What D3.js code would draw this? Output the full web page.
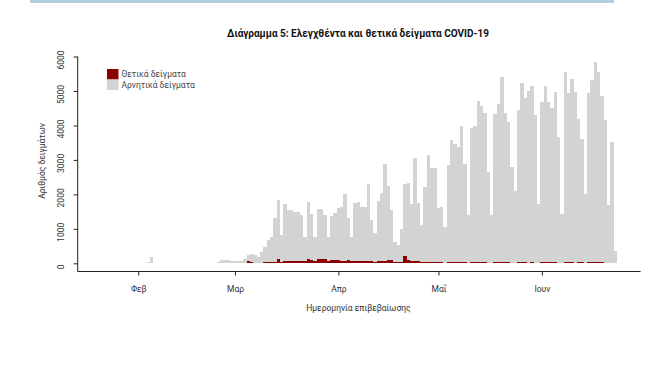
<!DOCTYPE html>
<html>
<head>
<meta charset="utf-8">
<script src="https://cdn.jsdelivr.net/npm/d3@7"></script>
<style>
  body { margin: 0; background: #fff; }
  text { font-family: Roboto, "Noto Sans", sans-serif; fill: #333; }
</style>
</head>
<body>
<svg id="chart" width="664" height="388"></svg>
<script>
// daily samples, first bar = 28 Jan 2020
var firstDay = '2020-01-28';

var tested = [
  15, 12, 18, 10,
  14, 8, 20, 25, 180, 22, 15, 10, 12, 18, 15, 12, 10, 0, 0,
  8, 12, 15, 10, 14, 16, 10, 12, 20, 40, 95, 110, 100, 80,
  70, 60, 55, 120, 250, 260, 230, 190,
  338, 483, 676, 760, 1304, 1836, 821, 1720, 1546, 1546,
  1478, 1498, 1401, 773, 1768, 1430, 773, 1565, 1575, 1401,
  773, 1382, 1449, 1594, 1643, 2010, 1304, 773, 1759, 1788,
  1643, 1643, 2300, 1256, 869, 1817, 2049, 2870, 2252, 1546,
  620, 520, 1000, 2300, 2339, 1710, 3044, 1739, 1111, 2223,
  3141, 2774, 2754, 1594, 1623, 1063, 2851, 3576, 3460, 3383,
  3992, 2880, 1401, 3914, 3982, 4707, 4572, 4350, 2657, 1401,
  4330, 4610, 5413, 4369, 4108, 2803, 2106, 4446, 5239, 4784,
  5007, 5150, 4301, 1720, 4688, 5152, 4688, 4494, 4958, 3673,
  1430, 5538, 4929, 5335, 4958, 4200, 3595, 2010, 4929, 5316,
  5848, 5558, 4852, 4156, 1691, 3528, 366
];

var positive = [
  0, 0, 0, 0,
  0, 0, 0, 0, 0, 0, 0, 0, 0, 0, 0, 0, 0, 0, 0,
  0, 0, 0, 0, 0, 0, 0, 0, 0, 0, 1, 2, 1, 0,
  3, 1, 2, 10, 55, 45, 20, 15,
  18, 25, 30, 35, 50, 125, 40, 75, 80, 75,
  80, 78, 72, 60, 125, 95, 60, 115, 112, 118,
  60, 105, 108, 100, 78, 80, 106, 65, 80, 78,
  75, 80, 76, 70, 45, 60, 62, 58, 100, 95,
  35, 30, 45, 205, 95, 80, 60, 55, 25, 40,
  45, 35, 40, 30, 25, 15, 30, 35, 25, 40,
  40, 28, 15, 30, 28, 35, 40, 30, 18, 12,
  28, 35, 30, 40, 28, 22, 12, 35, 30, 28,
  22, 28, 18, 10, 28, 30, 40, 35, 28, 22,
  12, 30, 35, 28, 22, 30, 28, 12, 35, 40,
  35, 30, 28, 22, 10, 18, 8
];

var monthTicks = ['2020-02-01', '2020-03-01', '2020-04-01', '2020-05-01', '2020-06-01'];
var monthLabels = ['Φεβ', 'Μαρ', 'Απρ', 'Μαΐ', 'Ιουν'];
var yTicks = [0, 1000, 2000, 3000, 4000, 5000, 6000];

var seriesNames = ['Θετικά δείγματα', 'Αρνητικά δείγματα'];
var seriesColors = ['#8b0000', '#d3d3d3'];

var parse = d3.timeParse('%Y-%m-%d');
var start = parse(firstDay);

var data = tested.map(function(t, i) {
  return { day: d3.timeDay.offset(start, i), tested: t, positive: positive[i] };
});

var svg = d3.select('#chart');

var x = d3.scaleTime()
    .domain([parse('2020-01-14'), parse('2020-06-30')])
    .range([78.2, 638.6]);
var y = d3.scaleLinear().domain([0, 6000]).range([263.3, 56.5]);
var axisY = 271.5;

// strip of the table above the chart
svg.append('rect')
    .attr('x', 30).attr('y', 0).attr('width', 584).attr('height', 3)
    .attr('fill', '#b3cde0');

svg.append('text')
    .attr('x', 358).attr('y', 37)
    .attr('text-anchor', 'middle')
    .style('font-weight', 'bold')
    .style('font-size', '10px')
    .style('fill', '#111')
    .text('Διάγραμμα 5: Ελεγχθέντα και θετικά δείγματα COVID-19');

var bars = svg.append('g').attr('shape-rendering', 'crispEdges');

function barX(d) {
  var w = x(d3.timeDay.offset(d.day, 1)) - x(d.day);
  return x(d.day) - w / 2;
}
function barW(d) {
  return x(d3.timeDay.offset(d.day, 1)) - x(d.day);
}

bars.selectAll('rect.neg')
  .data(data)
  .enter().append('rect')
    .attr('class', 'neg')
    .attr('x', barX)
    .attr('width', barW)
    .attr('y', function(d) { return y(d.tested); })
    .attr('height', function(d) { return y(d.positive) - y(d.tested); })
    .attr('fill', seriesColors[1]);

bars.selectAll('rect.pos')
  .data(data)
  .enter().append('rect')
    .attr('class', 'pos')
    .attr('x', barX)
    .attr('width', barW)
    .attr('y', function(d) { return y(d.positive); })
    .attr('height', function(d) { return y(0) - y(d.positive); })
    .attr('fill', seriesColors[0]);

// x axis
var xAxis = svg.append('g')
    .attr('transform', 'translate(0,' + axisY + ')')
    .call(d3.axisBottom(x)
      .tickValues(monthTicks.map(parse))
      .tickSize(4)
      .tickFormat(function(d, i) { return monthLabels[i]; }));
xAxis.select('.domain').remove();
xAxis.selectAll('line').attr('stroke', '#222');
xAxis.selectAll('text').attr('dy', null).attr('y', 20).style('font-size', '8.5px').style('fill', '#333');

svg.append('line')
    .attr('x1', 77.7).attr('x2', x.range()[1] + 2)
    .attr('y1', axisY).attr('y2', axisY)
    .attr('stroke', '#222');

// y axis
var yAxis = svg.append('g')
    .attr('transform', 'translate(77.7,0)')
    .call(d3.axisLeft(y).tickValues(yTicks).tickSize(4).tickFormat(d3.format('d')));
yAxis.select('.domain').remove();
yAxis.selectAll('line').attr('stroke', '#222');
yAxis.selectAll('text')
    .attr('x', null).attr('dy', null)
    .attr('text-anchor', 'middle')
    .attr('transform', 'translate(-14,3) rotate(-90)')
    .style('font-size', '8.5px')
    .style('fill', '#333');

svg.append('line')
    .attr('x1', 77.7).attr('x2', 77.7)
    .attr('y1', y(6000)).attr('y2', axisY)
    .attr('stroke', '#222');

// axis titles
svg.append('text')
    .attr('x', x.range()[0] + (x.range()[1] - x.range()[0]) / 2)
    .attr('y', 311)
    .attr('text-anchor', 'middle')
    .style('font-size', '8.5px')
    .text('Ημερομηνία επιβεβαίωσης');

svg.append('text')
    .attr('transform', 'translate(45,161) rotate(-90)')
    .attr('text-anchor', 'middle')
    .style('font-size', '8.5px')
    .text('Αριθμός δειγμάτων');

// legend
var legend = svg.append('g').attr('transform', 'translate(107,69)');
seriesNames.forEach(function(name, i) {
  legend.append('rect')
      .attr('x', 0).attr('y', i * 10.5)
      .attr('width', 11.5).attr('height', 10.5)
      .attr('fill', seriesColors[i]);
  legend.append('text')
      .attr('x', 14.5).attr('y', i * 10.5 + 8)
      .style('font-size', '8.5px')
      .style('fill', '#444')
      .text(name);
});
</script>
</body>
</html>
